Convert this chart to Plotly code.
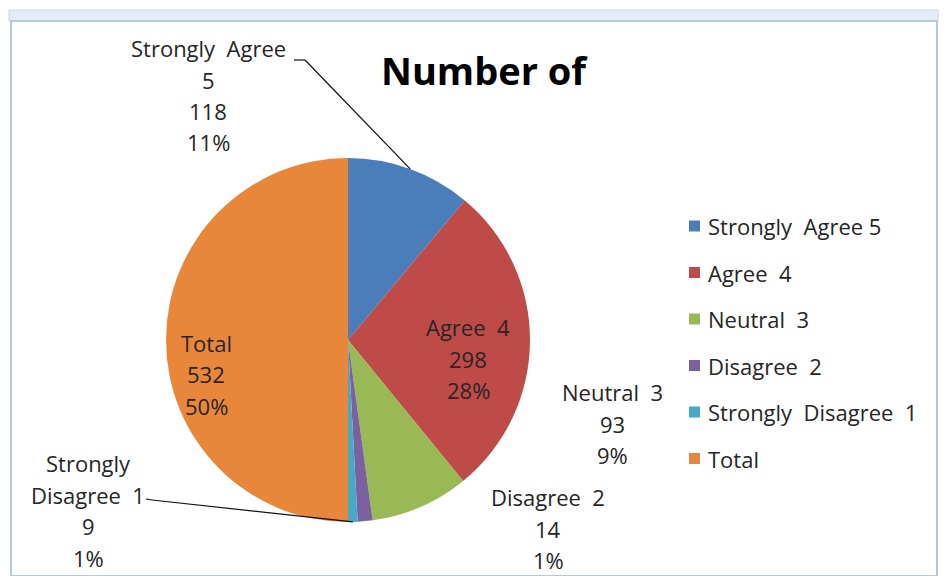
import numpy as np
import plotly.graph_objects as go

NB = "\u00a0"
categories = [f"Strongly{NB}{NB}Agree{NB}5", f"Agree{NB}{NB}4", f"Neutral{NB}{NB}3",
              f"Disagree{NB}{NB}2", f"Strongly{NB}{NB}Disagree{NB}{NB}1", "Total"]
label_names = [[f"Strongly{NB}{NB}Agree", "5"], [f"Agree{NB}{NB}4"], [f"Neutral{NB}{NB}3"],
               [f"Disagree{NB}{NB}2"], ["Strongly", f"Disagree{NB}{NB}1"], ["Total"]]
counts = [118, 298, 93, 14, 9, 532]
colors = ["#4A7EBB", "#BE4B48", "#98B954", "#7D60A0", "#46AAC5", "#E8873A"]

# page has an 8px body margin, so the figure is drawn 8px in from the window edge
OFF = 8
W, H = 947 - 2 * OFF, 584 - 2 * OFF
cx, cy, r = 348, 340, 182  # pie centre / radius in window pixels


def px(x):
    return (x - OFF) / W


def py(y):
    return 1 - (y - OFF) / H


FONT = "Open Sans, Noto Sans, sans-serif"
TXT = "#262626"
FS = 22

fig = go.Figure()
fig.add_trace(go.Pie(
    labels=categories,
    values=counts,
    marker=dict(colors=colors, line=dict(width=0)),
    sort=False,
    direction="clockwise",
    rotation=0,
    textinfo="none",
    hoverinfo="label+value+percent",
    showlegend=False,
    domain=dict(x=[px(cx - r), px(cx + r)], y=[py(cy + r), py(cy - r)]),
))

total = sum(counts)
pct = [round(v / total * 100) for v in counts]

# label centre x and first-line y (window pixels), line pitch
label_pos = [(208, 48), (468, 327), (612, 392), (548, 497), (88, 463), (206, 343)]
LINE = 31.5
leaders = {0: (305, 60), 4: (152, 500)}

annotations = []
for i, (name, v, p) in enumerate(zip(label_names, counts, pct)):
    x, y0 = label_pos[i]
    lines = name + [str(v), f"{p}%"]
    for k, t in enumerate(lines):
        annotations.append(dict(
            x=px(x), y=py(y0 + k * LINE), xref="paper", yref="paper",
            text=t, showarrow=False,
            font=dict(family=FONT, size=FS, color=TXT),
            xanchor="center", yanchor="middle",
        ))

# leader lines to slice edges
cum = np.cumsum([0] + counts)
shapes = []
for i, (sx, sy) in leaders.items():
    mid = (cum[i] + counts[i] / 2) / total * 2 * np.pi
    ex = cx + r * np.sin(mid)
    ey = cy - r * np.cos(mid)
    shapes.append(dict(type="line", xref="paper", yref="paper",
                       x0=px(sx), y0=py(sy), x1=px(ex), y1=py(ey),
                       line=dict(color="#111111", width=1.2)))
shapes.append(dict(type="line", xref="paper", yref="paper",
                   x0=px(294), y0=py(60), x1=px(305), y1=py(60),
                   line=dict(color="#111111", width=1.2)))
shapes.append(dict(type="line", xref="paper", yref="paper",
                   x0=px(146), y0=py(499), x1=px(152), y1=py(500),
                   line=dict(color="#111111", width=1.2)))

# custom legend
leg_y0, leg_dy = 226, 46.5
for i, (name, c) in enumerate(zip(categories, colors)):
    y = leg_y0 + i * leg_dy
    shapes.append(dict(type="rect", xref="paper", yref="paper",
                       x0=px(689), x1=px(700), y0=py(y - 5.5), y1=py(y + 5.5),
                       fillcolor=c, line=dict(width=0)))
    annotations.append(dict(
        x=px(706), y=py(y), xref="paper", yref="paper", text=name,
        showarrow=False, xanchor="left", yanchor="middle",
        font=dict(family=FONT, size=FS, color=TXT),
    ))

# title
annotations.append(dict(
    x=px(484), y=py(70), xref="paper", yref="paper", text="<b>Number of</b>",
    showarrow=False, xanchor="center", yanchor="middle",
    font=dict(family=FONT, size=38, color="#000000"),
))

# chart frame
shapes.append(dict(type="rect", xref="paper", yref="paper",
                   x0=px(9), x1=px(938), y0=py(10), y1=py(21),
                   fillcolor="#E4ECF5", line=dict(color="#C9D6E6", width=1),
                   layer="below"))
shapes.append(dict(type="rect", xref="paper", yref="paper",
                   x0=px(11), x1=px(937), y0=py(21), y1=py(576),
                   fillcolor="rgba(0,0,0,0)", line=dict(color="#B9C9DD", width=2),
                   layer="below"))

fig.update_layout(
    width=W, height=H,
    autosize=False,
    margin=dict(l=0, r=0, t=0, b=0, pad=0),
    paper_bgcolor="white",
    plot_bgcolor="white",
    annotations=annotations,
    shapes=shapes,
)

fig.write_html("out.html")
